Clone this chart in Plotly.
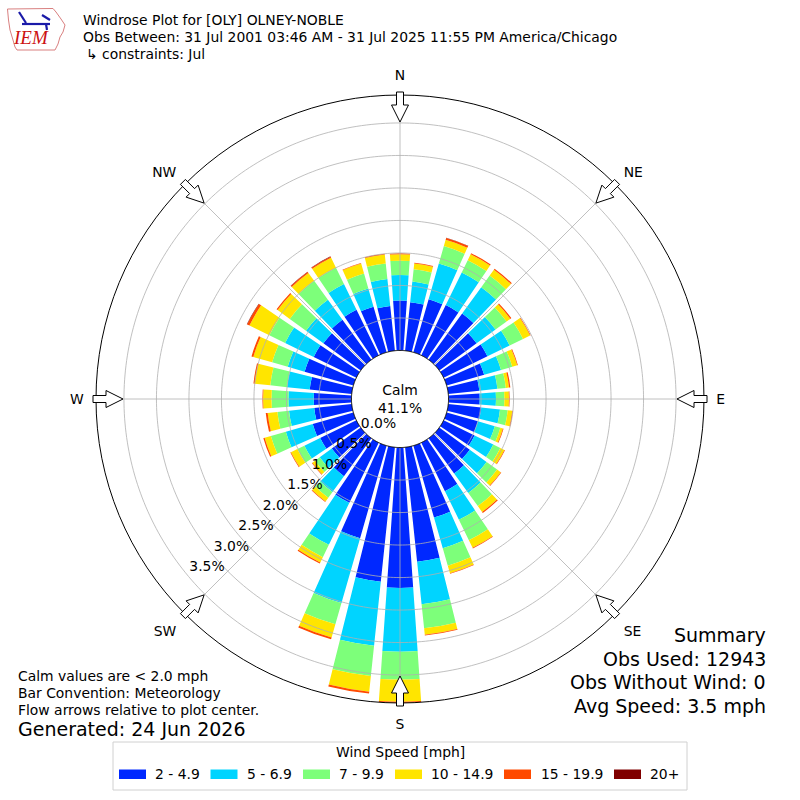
import math
import plotly.graph_objects as go

# ---------------- data (percent of observations) ----------------
directions = list(range(0, 360, 10))
speed_bins = ["2 - 4.9", "5 - 6.9", "7 - 9.9", "10 - 14.9", "15 - 19.9", "20+"]
bin_colors = ["#0028ff", "#00d4ff", "#7dff7a", "#ffe500", "#ff4a00", "#800000"]

pct_2_5 = [0.77, 0.75, 0.85, 0.86, 0.88, 0.71, 0.75, 0.60, 0.48, 0.48,
           0.51, 0.50, 0.53, 0.58, 0.67, 0.83, 1.15, 1.77, 2.16, 2.08,
           1.48, 1.03, 0.72, 0.55, 0.62, 0.65, 0.58, 0.58, 0.65, 0.78,
           0.73, 0.71, 0.76, 0.78, 0.73, 0.69]
pct_5_7 = [0.39, 0.32, 0.57, 0.56, 0.50, 0.36, 0.38, 0.27, 0.28, 0.25,
           0.29, 0.27, 0.32, 0.32, 0.37, 0.49, 0.49, 0.66, 0.98, 0.99,
           1.04, 0.72, 0.30, 0.23, 0.27, 0.43, 0.39, 0.39, 0.35, 0.27,
           0.49, 0.33, 0.38, 0.44, 0.29, 0.42]
pct_7_10 = [0.22, 0.19, 0.28, 0.21, 0.22, 0.21, 0.23, 0.18, 0.13, 0.13,
            0.12, 0.09, 0.12, 0.20, 0.25, 0.35, 0.28, 0.37, 0.43, 0.47,
            0.34, 0.21, 0.11, 0.09, 0.12, 0.24, 0.18, 0.26, 0.26, 0.25,
            0.27, 0.31, 0.36, 0.28, 0.24, 0.24]
pct_10_15 = [0.10, 0.09, 0.10, 0.10, 0.11, 0.07, 0.12, 0.08, 0.05, 0.07,
             0.07, 0.04, 0.07, 0.07, 0.11, 0.13, 0.12, 0.10, 0.34, 0.24,
             0.21, 0.09, 0.07, 0.05, 0.11, 0.10, 0.15, 0.13, 0.24, 0.30,
             0.34, 0.23, 0.15, 0.17, 0.16, 0.14]
pct_15_20 = [0.015, 0.01, 0.03, 0.02, 0.02, 0.02, 0.01, 0.01, 0.02, 0.01,
             0.01, 0.01, 0.01, 0.01, 0.02, 0.01, 0.01, 0.01, 0.02, 0.03,
             0.03, 0.02, 0.01, 0.01, 0.01, 0.02, 0.03, 0.01, 0.02, 0.03,
             0.04, 0.02, 0.02, 0.02, 0.01, 0.01]
pct_20p = [0, 0, 0.005, 0, 0, 0, 0, 0, 0, 0,
           0, 0, 0, 0, 0, 0, 0, 0, 0, 0,
           0, 0, 0, 0, 0, 0, 0, 0, 0, 0,
           0.005, 0, 0.005, 0.005, 0, 0]
series = [pct_2_5, pct_5_7, pct_7_10, pct_10_15, pct_15_20, pct_20p]

radial_ticks = [0.0, 0.5, 1.0, 1.5, 2.0, 2.5, 3.0, 3.5]
radial_labels = ["%.1f%%" % v for v in radial_ticks]
compass_vals = [0, 45, 90, 135, 180, 225, 270, 315]
compass_text = ["N", "NE", "E", "SE", "S", "SW", "W", "NW"]
r_max = 3.93
calm_pct = "41.1%"

title_lines = ["Windrose Plot for [OLY] OLNEY-NOBLE",
               "Obs Between: 31 Jul 2001 03:46 AM - 31 Jul 2025 11:55 PM America/Chicago",
               "\u21b3 constraints: Jul"]
notes = ["Calm values are < 2.0 mph", "Bar Convention: Meteorology",
         "Flow arrows relative to plot center."]
generated = "Generated: 24 Jun 2026"
summary = ["Summary", "Obs Used: 12943", "Obs Without Wind: 0", "Avg Speed: 3.5 mph"]

FONT = "DejaVu Sans"
W = H = 800
CX, CY, R_OUT = 400.0, 399.0, 304.0
K = 65.0                       # pixels per 1 % on the radial axis
r_min = r_max - R_OUT / K      # inner part of the radial range acts as the calm hole


def px(x):
    return x / W


def py(y):
    return 1 - y / H


def to_polar(x, y):
    dx, dy = x - CX, y - CY
    rho = math.hypot(dx, dy)
    return rho / K + r_min, math.degrees(math.atan2(dx, -dy)) % 360


fig = go.Figure()

# stacked bars: each speed bin starts where the previous bins end
cum = [0.0] * len(directions)
for name, vals, col in zip(speed_bins, series, bin_colors):
    fig.add_trace(go.Barpolar(r=vals, theta=directions, width=8, name=name, base=list(cum),
                              marker=dict(color=col, line=dict(width=0)),
                              showlegend=False))
    cum = [c + v for c, v in zip(cum, vals)]

grid_col = "#b0b0b0"
ring_theta = list(range(0, 361, 1))
for v in radial_ticks[1:]:
    fig.add_trace(go.Scatterpolar(r=[v] * len(ring_theta), theta=ring_theta, mode="lines",
                                  line=dict(color=grid_col, width=0.8),
                                  hoverinfo="skip", showlegend=False))
for a in compass_vals:
    fig.add_trace(go.Scatterpolar(r=[0, r_max], theta=[a, a], mode="lines",
                                  line=dict(color=grid_col, width=0.8),
                                  hoverinfo="skip", showlegend=False))
fig.add_trace(go.Scatterpolar(r=[0] * len(ring_theta), theta=ring_theta, mode="lines",
                              line=dict(color="black", width=1),
                              fill="toself", fillcolor="white",
                              hoverinfo="skip", showlegend=False))

# radial tick labels, offset from the ring positions like matplotlib does
lab_pos = [to_polar(378.5 - 49.0 * v, 424.5 + 41.0 * v) for v in radial_ticks]
fig.add_trace(go.Scatterpolar(r=[p[0] for p in lab_pos], theta=[p[1] for p in lab_pos],
                              mode="text", text=radial_labels,
                              textfont=dict(family=FONT, size=13.9, color="black"),
                              hoverinfo="skip", showlegend=False, cliponaxis=False))

shapes = []
# flow arrows (hollow), pointing toward the centre
for a in compass_vals:
    t = math.radians(a)
    ux, uy = math.sin(t), -math.cos(t)
    vx, vy = math.cos(t), math.sin(t)
    tip, base, tail, hw, sw = 277.0, 294.0, 307.0, 8.5, 3.5

    def P(r, o):
        return (px(CX + r * ux + o * vx), py(CY + r * uy + o * vy))
    pts = [P(tip, 0), P(base, hw), P(base, sw), P(tail, sw), P(tail, -sw),
           P(base, -sw), P(base, -hw)]
    path = "M " + " L ".join("%.5f,%.5f" % p for p in pts) + " Z"
    shapes.append(dict(type="path", xref="paper", yref="paper", path=path,
                       fillcolor="white", line=dict(color="black", width=1)))

# legend box
shapes.append(dict(type="rect", xref="paper", yref="paper", x0=px(113), x1=px(687),
                   y0=py(790), y1=py(742), line=dict(color="#d0d0d0", width=1),
                   fillcolor="rgba(255,255,255,0.8)"))
sw_x = [119, 210.5, 303, 395, 504, 614]
lab_x = [153, 245, 337, 429, 539, 648]
for x0, col in zip(sw_x, bin_colors):
    shapes.append(dict(type="rect", xref="paper", yref="paper", x0=px(x0), x1=px(x0 + 27),
                       y0=py(779), y1=py(769.5), line=dict(width=0), fillcolor=col))

# IEM logo (approximate)
iowa = [(7.5, 9), (53, 8.5), (56, 12), (61, 19), (65, 25), (63, 32), (60, 37),
        (58, 44), (55, 50), (17, 50), (15, 47), (13, 40), (10, 30), (8.5, 20)]
shapes.append(dict(type="path", xref="paper", yref="paper",
                   path="M " + " L ".join("%.5f,%.5f" % (px(x), py(y)) for x, y in iowa) + " Z",
                   line=dict(color="#d98080", width=1), fillcolor="white"))
for (x0, y0, x1, y1) in [(22, 24, 50, 24), (19, 12, 26, 23), (42, 15, 50, 20), (46, 24, 47, 30)]:
    shapes.append(dict(type="line", xref="paper", yref="paper", x0=px(x0), y0=py(y0),
                       x1=px(x1), y1=py(y1), line=dict(color="#1a1aa8", width=2.2)))

annotations = []
for i, txt in enumerate(title_lines):
    annotations.append(dict(x=px(81 if i < 2 else 84), y=py(20 + 17 * i), xref="paper", yref="paper",
                            text=txt, showarrow=False, xanchor="left", yanchor="middle",
                            font=dict(family=FONT, size=13.9, color="black")))
annotations.append(dict(x=px(31), y=py(38), xref="paper", yref="paper", text="<i>IEM</i>",
                        showarrow=False, xanchor="center", yanchor="middle",
                        font=dict(family="Liberation Serif", size=19, color="#cc1111")))
for i, txt in enumerate(notes):
    annotations.append(dict(x=px(16), y=py(676 + 17 * i), xref="paper", yref="paper", text=txt,
                            showarrow=False, xanchor="left", yanchor="middle",
                            font=dict(family=FONT, size=13.9, color="black")))
annotations.append(dict(x=px(16), y=py(729), xref="paper", yref="paper", text=generated,
                        showarrow=False, xanchor="left", yanchor="middle",
                        font=dict(family=FONT, size=19, color="black")))
for i, txt in enumerate(summary):
    annotations.append(dict(x=px(768), y=py(635 + 23.5 * i), xref="paper", yref="paper", text=txt,
                            showarrow=False, xanchor="right", yanchor="middle",
                            font=dict(family=FONT, size=19, color="black")))
annotations.append(dict(x=px(400), y=py(399), xref="paper", yref="paper",
                        text="Calm<br>" + calm_pct, showarrow=False,
                        xanchor="center", yanchor="middle",
                        font=dict(family=FONT, size=13.9, color="black")))
annotations.append(dict(x=px(400), y=py(752), xref="paper", yref="paper", text="Wind Speed [mph]",
                        showarrow=False, xanchor="center", yanchor="middle",
                        font=dict(family=FONT, size=13.9, color="black")))
for x0, txt in zip(lab_x, speed_bins):
    annotations.append(dict(x=px(x0), y=py(774), xref="paper", yref="paper", text=txt,
                            showarrow=False, xanchor="left", yanchor="middle",
                            font=dict(family=FONT, size=13.9, color="black")))

fig.update_layout(
    width=W, height=H, margin=dict(l=0, r=0, t=0, b=0),
    paper_bgcolor="white", plot_bgcolor="white", showlegend=False,
    font=dict(family=FONT, size=13.9, color="black"),
    polar=dict(
        domain=dict(x=[px(CX - R_OUT), px(CX + R_OUT)], y=[py(CY + R_OUT), py(CY - R_OUT)]),
        bgcolor="white", barmode="overlay",
        radialaxis=dict(range=[r_min, r_max], showline=False, showgrid=False, ticks="",
                        showticklabels=False),
        angularaxis=dict(direction="clockwise", rotation=90, tickmode="array",
                         tickvals=compass_vals, ticktext=compass_text, showline=True,
                         linecolor="black", linewidth=1, showgrid=False,
                         ticks="outside", ticklen=9, tickcolor="rgba(0,0,0,0)",
                         tickfont=dict(family=FONT, size=13.9, color="black")),
    ),
    shapes=shapes, annotations=annotations,
)

fig.write_html("out.html", config={"displayModeBar": False},
               post_script="document.body.style.margin='0';document.body.style.overflow='hidden';")
